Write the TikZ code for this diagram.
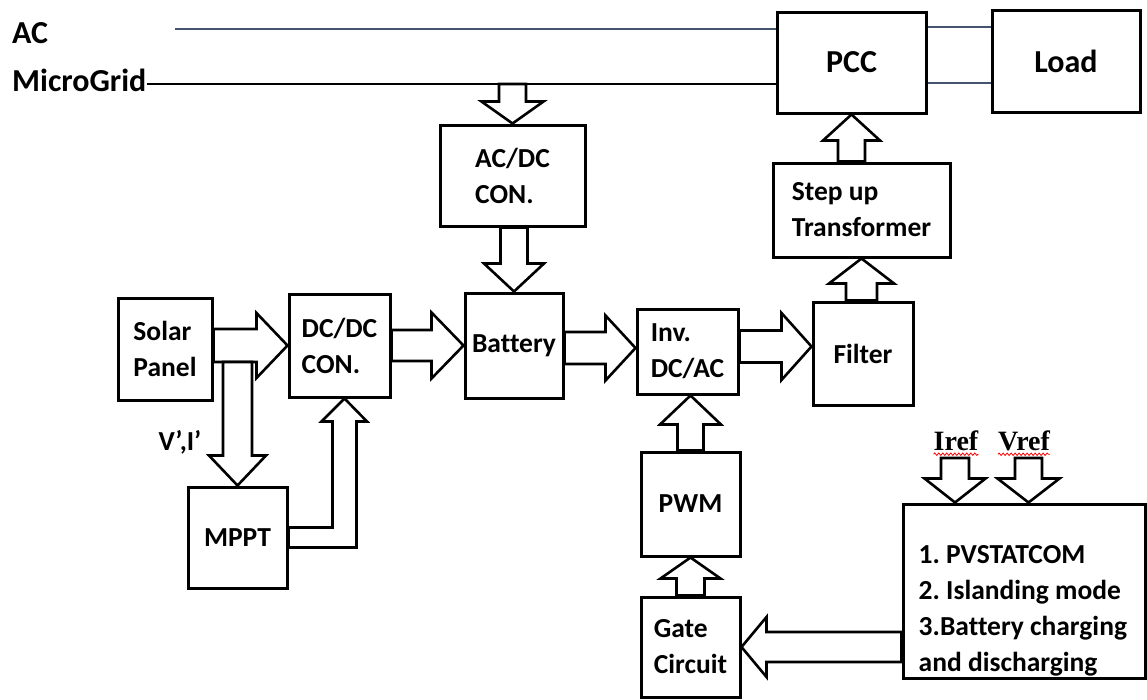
\documentclass[tikz,border=0pt]{standalone}
\usepackage{fontspec}
\setmainfont{Carlito}[Ligatures={NoCommon}]
\newfontfamily\reffont{Liberation Serif}
\usetikzlibrary{
  calc,                     % anchor arithmetic
  positioning,              % relative placement
  decorations.pathmorphing  % wavy underline
}
\definecolor{gridline}{HTML}{44546A}
\frenchspacing

\tikzset{
  blockbox/.style={draw, line width=3pt, inner sep=0pt, align=left,
    font=\bfseries\fontsize{27.5}{36}\selectfont},
  bigfont/.style={font=\bfseries\fontsize{32}{38}\selectfont},
  boxtext/.style={inner sep=0pt, align=left, font=\bfseries\fontsize{27.5}{36}\selectfont},
  reftext/.style={inner sep=0pt, font=\reffont\bfseries\fontsize{28}{32}\selectfont},
  blockarrow/.style={draw, fill=white, line width=2.6pt, line join=miter}
}

% hollow block arrow: #1 tail, #2 tip, #3 half shaft, #4 half head, #5 head length
\newcommand{\hollowarrow}[5]{%
  \coordinate (hb) at ($(#2)!#5!(#1)$);
  \draw[blockarrow] ($(#1)!#3!90:(#2)$) -- ($(hb)!#3!-90:(#1)$)
    -- ($(hb)!#4!-90:(#1)$) -- (#2) -- ($(hb)!#4!90:(#1)$)
    -- ($(hb)!#3!90:(#1)$) -- ($(#1)!#3!-90:(#2)$) -- cycle;
}

\begin{document}
\begin{tikzpicture}[x=1pt, y=-1pt]
  \useasboundingbox (0,0) rectangle (1147,699);

  % grid labels
  \node[boxtext, bigfont, anchor=west] (ac) at (12,33) {AC};
  \node[boxtext, bigfont, anchor=west] (mg) at (12,80) {MicroGrid};

  % blocks
  \node[blockbox, bigfont, minimum width=149pt, minimum height=101pt] (pcc) at (851.5,62.5) {PCC};
  \node[blockbox, bigfont, minimum width=148pt, minimum height=102pt] (load) at (1066,61) {Load};
  \node[blockbox, minimum width=145pt, minimum height=101pt] (acdc) at (512.5,175.5) {AC/DC\\CON.};
  \node[blockbox, minimum width=98pt, minimum height=105pt] (battery) at (514,345.5) {Battery};
  \node[blockbox, minimum width=94pt, minimum height=102pt] (solar) at (165,349) {Solar\\Panel};
  \node[blockbox, minimum width=101pt, minimum height=103pt] (dcdc) at (339.5,345.5) {DC/DC\\CON.};
  \node[blockbox, minimum width=99pt, minimum height=101pt] (mppt) at (237.5,537.5) {MPPT};
  \node[blockbox, minimum width=101pt, minimum height=85pt] (inv) at (687.5,351.5) {Inv.\\DC/AC};
  \node[blockbox, minimum width=100pt, minimum height=103pt] (filter) at (863,353.5) {Filter};
  \node[blockbox, minimum width=177pt, minimum height=94pt] (stepup) at (861.5,210) {Step up\\Transformer};
  \node[blockbox, minimum width=99pt, minimum height=104pt] (pwm) at (690.5,504) {PWM};
  \node[blockbox, minimum width=99pt, minimum height=100pt] (gate) at (690.5,647) {Gate\\Circuit};
  \node[blockbox, minimum width=242pt, minimum height=174pt] (ctrl) at (1024,591) {};
  \node[boxtext, anchor=south west] (ctrltext) at ($(ctrl.south west)+(17,-3)$)
    {1. PVSTATCOM\\2. Islanding mode\\3.Battery charging\\and discharging};

  % reference inputs
  \node[reftext] (iref) at (956,441) {Iref};
  \node[reftext] (vref) at (1024,441) {Vref};
  \draw[red, line width=0.8pt, decorate, decoration={snake, amplitude=1.2pt, segment length=4pt}]
    ($(iref.south west)+(0,3)$) -- ($(iref.south east)+(0,3)$);
  \draw[red, line width=0.8pt, decorate, decoration={snake, amplitude=1.2pt, segment length=4pt}]
    ($(vref.south west)+(0,3)$) -- ($(vref.south east)+(0,3)$);

  % AC bus lines
  \coordinate (acstart) at (175,29);
  \coordinate (mgstart) at (mg.east |- 0,84);
  \draw[gridline, line width=2.8pt] (acstart) -- (acstart -| pcc.west);
  \draw[line width=2.6pt] (mgstart) -- (mgstart -| pcc.west);
  \coordinate (pl1) at (pcc.east |- 0,27);
  \coordinate (pl2) at (pcc.east |- 0,83);
  \draw[gridline, line width=2.6pt] (pl1) -- (pl1 -| load.west);
  \draw[gridline, line width=2.6pt] (pl2) -- (pl2 -| load.west);

  % power path
  \coordinate (a1t) at (acdc.north |- mgstart);
  \hollowarrow{a1t}{acdc.north}{13.5pt}{31pt}{22pt}
  \coordinate (a2t) at (battery.north |- acdc.south);
  \hollowarrow{a2t}{battery.north}{13.5pt}{30pt}{28pt}
  \coordinate (a3t) at (solar.east |- dcdc.west);
  \hollowarrow{a3t}{dcdc.west}{16.5pt}{32.5pt}{31pt}
  \coordinate (a4t) at ($(mppt.north |- a3t)+(0,16.5)$);
  \hollowarrow{a4t}{mppt.north}{14.5pt}{28.5pt}{30pt}
  \node[boxtext, left=36pt of a4t, yshift=-80pt] (vi) {V’,I’};
  \hollowarrow{dcdc.east}{battery.west}{15.5pt}{33pt}{32pt}
  \coordinate (a7h) at ($(inv.west)+(0,-3.5)$);
  \coordinate (a7t) at (battery.east |- a7h);
  \hollowarrow{a7t}{a7h}{16pt}{32.5pt}{30pt}
  \coordinate (a8h) at ($(filter.west)+(0,-7)$);
  \coordinate (a8t) at (inv.east |- a8h);
  \hollowarrow{a8t}{a8h}{16pt}{33.5pt}{30pt}
  \coordinate (a9t) at (stepup.south |- filter.north);
  \hollowarrow{a9t}{stepup.south}{15.5pt}{32.5pt}{25pt}
  \coordinate (a10t) at (pcc.south |- stepup.north);
  \hollowarrow{a10t}{pcc.south}{13.5pt}{28.5pt}{26pt}

  % MPPT feedback to DC/DC
  \coordinate (mpptup) at ($(dcdc.south)+(5,0)$);
  \draw[blockarrow] ($(mppt.east)+(0,-10)$) -| ($(mpptup)+(-12,23)$) -- ++(-11,0)
    -- (mpptup) -- ++(22.5,23) -- ++(-10.5,0) |- ($(mppt.east)+(0,10)$) -- cycle;

  % control path
  \coordinate (a11h) at (pwm.north |- inv.south);
  \hollowarrow{pwm.north}{a11h}{13pt}{30.5pt}{29pt}
  \hollowarrow{gate.north}{pwm.south}{14pt}{30pt}{21pt}
  \coordinate (a13t) at (ctrl.west |- gate.east);
  \hollowarrow{a13t}{gate.east}{15pt}{30pt}{25pt}
  \coordinate (irefin) at (955,458);
  \coordinate (vrefin) at (1028.5,458);
  \coordinate (irefh) at (irefin |- ctrl.north);
  \coordinate (vrefh) at (vrefin |- ctrl.north);
  \hollowarrow{irefin}{irefh}{14pt}{30.5pt}{24pt}
  \hollowarrow{vrefin}{vrefh}{13.5pt}{31pt}{24pt}
\end{tikzpicture}
\end{document}
